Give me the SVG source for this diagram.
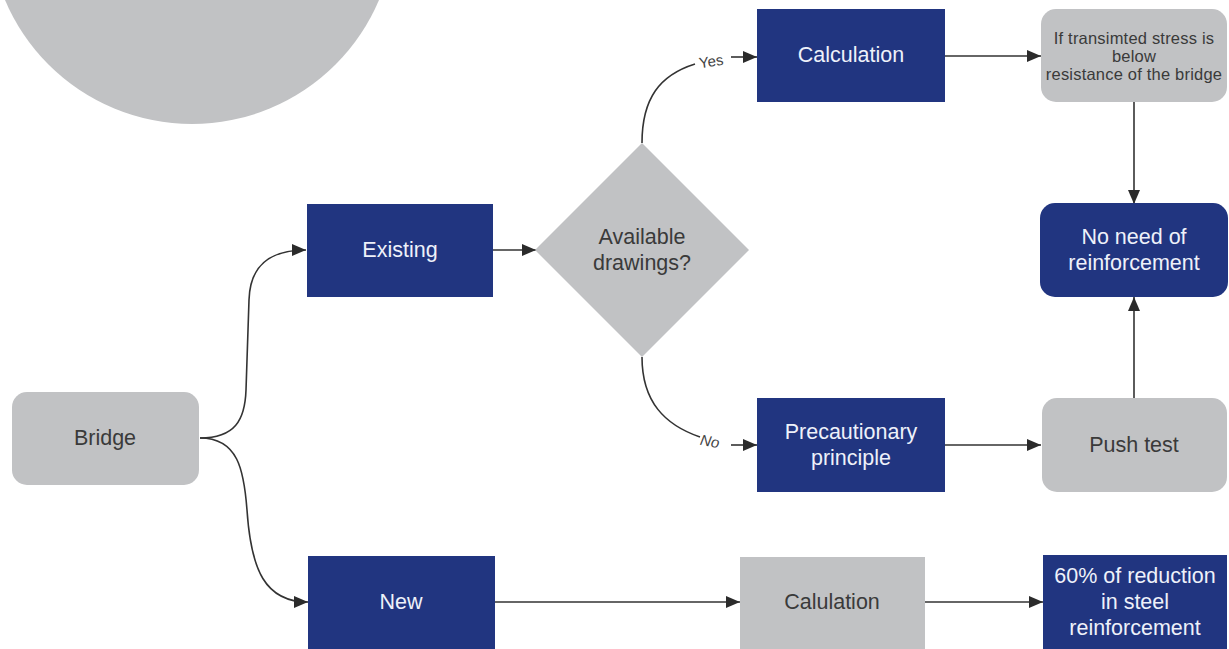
<svg xmlns="http://www.w3.org/2000/svg" width="1229" height="649" viewBox="0 0 1229 649">
<defs>
<style>
.navy{fill:#213580}
.grey{fill:#c1c2c4}
.tw{font-family:"Liberation Sans",Arial,sans-serif;font-size:21.5px;fill:#eef1fa;text-anchor:middle;dominant-baseline:central}
.tg{font-family:"Liberation Sans",Arial,sans-serif;font-size:21.5px;fill:#3a3a3a;text-anchor:middle;dominant-baseline:central}
.ts{font-family:"Liberation Sans",Arial,sans-serif;font-size:16.5px;fill:#3a3a3a;text-anchor:middle;dominant-baseline:central;letter-spacing:0.2px}
.lbl{font-family:"Liberation Sans",Arial,sans-serif;font-size:15px;fill:#444;text-anchor:middle;dominant-baseline:central}
.c{fill:none;stroke:#333;stroke-width:1.6}
</style>
<marker id="ah" viewBox="0 0 14 12" refX="14" refY="6" markerWidth="14" markerHeight="12" markerUnits="userSpaceOnUse" orient="auto">
<path d="M0,0 L14,6 L0,12 z" fill="#2b2b2b"/>
</marker>
</defs>
<rect width="1229" height="649" fill="#ffffff"/>
<circle cx="192" cy="-79" r="203" fill="#c1c2c4"/>

<g id="connectors">
<path class="c" d="M200,438 C235,438 245,420 246,390 L249,300 C250,265 270,250 306,250" marker-end="url(#ah)"/>
<path class="c" d="M200,438 C238,438 244,470 247,510 C251,570 265,602 308,602" marker-end="url(#ah)"/>
<path class="c" d="M493,250 L536,250" marker-end="url(#ah)"/>
<path class="c" d="M642,143 C642,98 660,75 695,64"/>
<path class="c" d="M731,57 L757,57" marker-end="url(#ah)"/>
<path class="c" d="M642,357 C642,402 665,425 700,437"/>
<path class="c" d="M731,445 L757,445" marker-end="url(#ah)"/>
<path class="c" d="M945,56 L1041,56" marker-end="url(#ah)"/>
<path class="c" d="M1134,102 L1134,204" marker-end="url(#ah)"/>
<path class="c" d="M1134,398 L1134,297" marker-end="url(#ah)"/>
<path class="c" d="M945,445 L1041,445" marker-end="url(#ah)"/>
<path class="c" d="M495,602 L740,602" marker-end="url(#ah)"/>
<path class="c" d="M925,602 L1043,602" marker-end="url(#ah)"/>
<text class="lbl" x="711" y="61" transform="rotate(-8 711 61)">Yes</text>
<text class="lbl" x="710" y="441" font-style="italic" transform="rotate(10 710 441)">No</text>
</g>

<g id="bridge">
<rect class="grey" x="12" y="392" width="187" height="93" rx="15"/>
<text class="tg" x="105" y="438">Bridge</text>
</g>
<g id="existing">
<rect class="navy" x="307" y="204" width="186" height="93"/>
<text class="tw" x="400" y="250">Existing</text>
</g>
<g id="available">
<polygon class="grey" points="642,143 749,250 642,357 535,250"/>
<text class="tg" x="642" y="237">Available</text>
<text class="tg" x="642" y="263">drawings?</text>
</g>
<g id="calculation">
<rect class="navy" x="757" y="9" width="188" height="93"/>
<text class="tw" x="851" y="55">Calculation</text>
</g>
<g id="stress">
<rect class="grey" x="1041" y="9" width="186" height="93" rx="15"/>
<text class="ts" x="1134" y="38">If transimted stress is</text>
<text class="ts" x="1134" y="56">below</text>
<text class="ts" x="1134" y="74">resistance of the bridge</text>
</g>
<g id="noneed">
<rect class="navy" x="1040" y="203" width="188" height="94" rx="15"/>
<text class="tw" x="1134" y="237">No need of</text>
<text class="tw" x="1134" y="263">reinforcement</text>
</g>
<g id="precautionary">
<rect class="navy" x="757" y="398" width="188" height="94"/>
<text class="tw" x="851" y="432">Precautionary</text>
<text class="tw" x="851" y="458">principle</text>
</g>
<g id="pushtest">
<rect class="grey" x="1042" y="398" width="185" height="94" rx="15"/>
<text class="tg" x="1134" y="445">Push test</text>
</g>
<g id="new">
<rect class="navy" x="308" y="556" width="187" height="93"/>
<text class="tw" x="401" y="602">New</text>
</g>
<g id="calulation">
<rect class="grey" x="740" y="557" width="185" height="92"/>
<text class="tg" x="832" y="602">Calulation</text>
</g>
<g id="reduction">
<rect class="navy" x="1043" y="555" width="184" height="94"/>
<text class="tw" x="1135" y="576">60% of reduction</text>
<text class="tw" x="1135" y="602">in steel</text>
<text class="tw" x="1135" y="628">reinforcement</text>
</g>
</svg>
